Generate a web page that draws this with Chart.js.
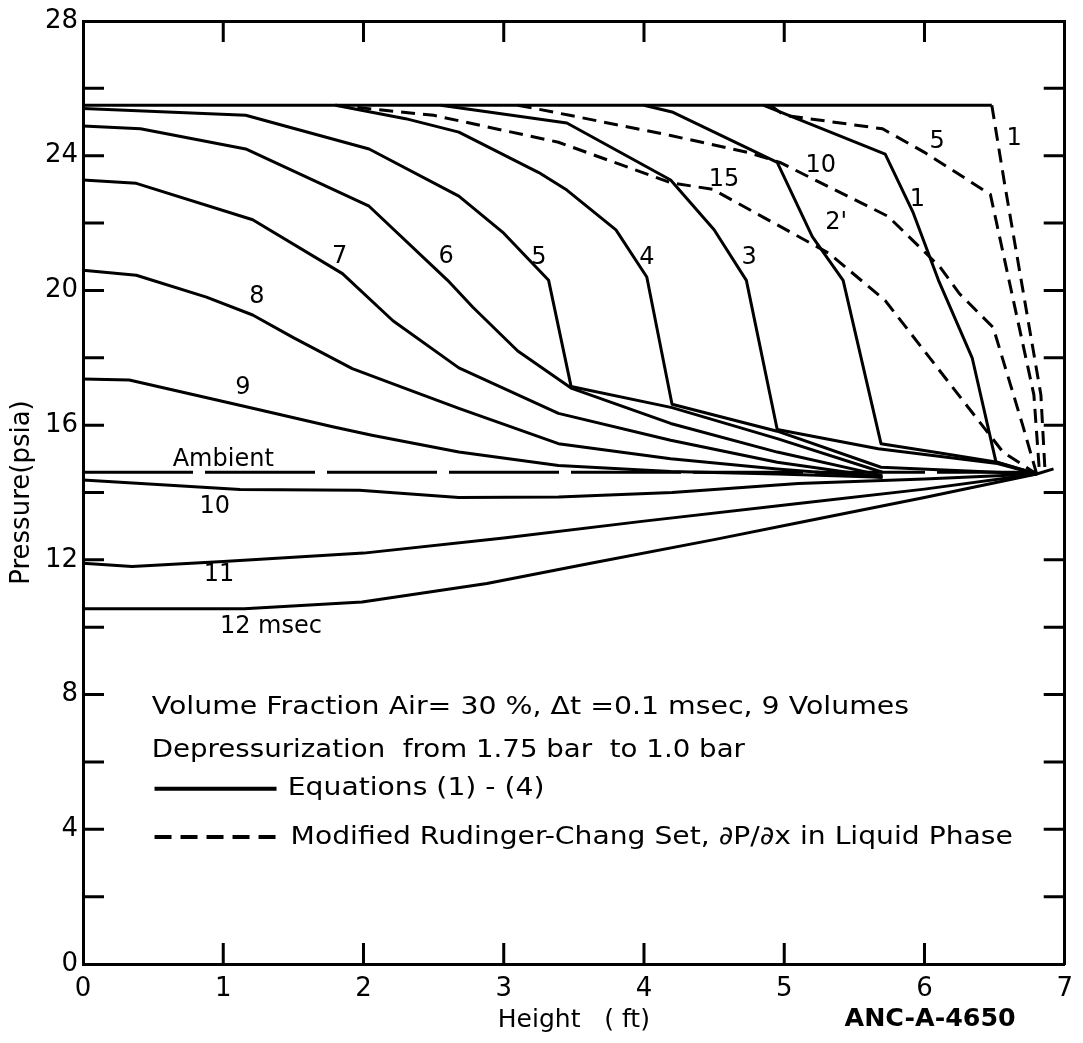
<!DOCTYPE html>
<html>
<head>
<meta charset="utf-8">
<script src="https://cdn.jsdelivr.net/npm/chart.js@4.4.1/dist/chart.umd.min.js"></script>
<style>
  html, body { margin: 0; padding: 0; background: #fff; }
  canvas { display: block; }
</style>
</head>
<body>
<canvas id="chart" width="1083" height="1043"></canvas>
<script>
// [height ft, pressure psia]
const initial = [[0, 25.5], [6.48, 25.5]];
const eq1 = [[4.85, 25.5], [5.72, 24.05], [5.92, 22.3], [6.1, 20.3], [6.34, 18.0], [6.51, 14.9], [6.8, 14.55]];
const eq2 = [[4.0, 25.5], [4.2, 25.3], [4.95, 23.8], [5.2, 21.6], [5.42, 20.3], [5.69, 15.45], [6.1, 15.18], [6.52, 14.9], [6.8, 14.55]];
const eq3 = [[2.55, 25.5], [3.45, 24.97], [4.19, 23.28], [4.5, 21.8], [4.73, 20.3], [4.95, 15.87], [5.67, 15.3], [6.52, 14.86], [6.8, 14.55]];
const eq4 = [[1.8, 25.5], [2.3, 25.1], [2.68, 24.7], [3.25, 23.5], [3.45, 22.98], [3.8, 21.8], [4.02, 20.4], [4.2, 16.62], [4.95, 15.82], [5.69, 14.75], [6.8, 14.55]];
const eq5 = [[0, 25.4], [1.16, 25.2], [2.04, 24.2], [2.68, 22.8], [3.0, 21.7], [3.32, 20.3], [3.48, 17.15], [4.2, 16.52], [4.95, 15.6], [5.7, 14.6]];
const eq6 = [[0, 24.88], [0.41, 24.8], [1.16, 24.2], [2.04, 22.5], [2.6, 20.3], [2.78, 19.5], [3.1, 18.2], [3.48, 17.1], [4.19, 16.05], [4.95, 15.2], [5.7, 14.5]];
const eq7 = [[0, 23.28], [0.38, 23.18], [1.21, 22.1], [1.85, 20.5], [2.21, 19.1], [2.68, 17.7], [3.39, 16.35], [4.19, 15.55], [4.95, 14.9], [5.7, 14.45]];
const eq8 = [[0, 20.6], [0.38, 20.45], [0.88, 19.8], [1.21, 19.27], [1.5, 18.6], [1.92, 17.68], [2.33, 17.04], [2.68, 16.5], [3.39, 15.45], [4.19, 15.0], [4.95, 14.7], [5.7, 14.45]];
const eq9 = [[0, 17.37], [0.33, 17.34], [0.79, 16.9], [1.21, 16.5], [1.78, 15.95], [2.06, 15.7], [2.68, 15.2], [3.39, 14.8], [4.19, 14.62], [4.95, 14.55], [5.7, 14.45]];
const eq10 = [[0, 14.37], [1.12, 14.09], [1.97, 14.07], [2.68, 13.85], [3.39, 13.87], [4.2, 14.0], [5.1, 14.27], [6.0, 14.4], [6.8, 14.55]];
const eq11 = [[0, 11.9], [0.35, 11.8], [1.0, 11.95], [2.0, 12.2], [3.0, 12.65], [4.0, 13.15], [5.1, 13.67], [6.0, 14.1], [6.8, 14.55]];
const eq12 = [[0, 10.55], [1.15, 10.55], [1.99, 10.75], [2.88, 11.3], [3.62, 11.9], [4.5, 12.6], [5.1, 13.1], [6.0, 13.85], [6.8, 14.55], [6.92, 14.7]];

const rc1 = [[6.48, 25.5], [6.57, 23.2], [6.83, 16.9], [6.86, 14.6]];
const rc5 = [[4.9, 25.5], [5.0, 25.2], [5.7, 24.8], [6.0, 24.1], [6.47, 22.85], [6.78, 16.9], [6.82, 14.6]];
const rc10 = [[3.1, 25.5], [3.47, 25.2], [4.19, 24.6], [4.74, 24.1], [4.97, 23.8], [5.74, 22.2], [6.11, 20.7], [6.25, 19.9], [6.49, 18.9], [6.7, 16.0], [6.8, 14.55]];
const rc15 = [[1.8, 25.5], [2.5, 25.2], [3.39, 24.4], [4.19, 23.2], [4.49, 23.0], [5.32, 21.1], [5.72, 19.7], [6.16, 17.34], [6.56, 15.2], [6.8, 14.55]];

const ambient = [[0, 14.6], [6.8, 14.6]];

const xTickMarks = [1, 2, 3, 4, 5, 6];
const yTickMarks = [2, 4, 6, 8, 10, 12, 14, 16, 18, 20, 22, 24, 26];

// label text with its anchor in data units
const curveLabels = [
  ['1', 5.95, 22.7], ["2'", 5.37, 22.0], ['3', 4.75, 20.96], ['4', 4.02, 20.96],
  ['5', 3.25, 20.96], ['6', 2.59, 21.0], ['7', 1.83, 21.0], ['8', 1.24, 19.8],
  ['9', 1.14, 17.1], ['10', 0.94, 13.57], ['11', 0.97, 11.55], ['12 msec', 1.34, 10.0],
  ['Ambient', 1.0, 14.96],
  ['15', 4.57, 23.3], ['10', 5.26, 23.7], ['5', 6.09, 24.4], ['1', 6.64, 24.5],
];

const FONT = '"DejaVu Sans", sans-serif';
const TICK = 21;

const toPoints = (pairs) => pairs.map(([x, y]) => ({ x, y }));

const solidLines = [initial, eq1, eq2, eq3, eq4, eq5, eq6, eq7, eq8, eq9, eq10, eq11, eq12];
const dashedLines = [rc1, rc5, rc10, rc15];

const datasets = [
  ...solidLines.map((s) => ({ data: toPoints(s), borderColor: '#000', borderWidth: 3, pointRadius: 0, tension: 0, borderJoinStyle: 'round' })),
  ...dashedLines.map((s) => ({ data: toPoints(s), borderColor: '#000', borderWidth: 3, pointRadius: 0, tension: 0, borderDash: [14, 8] })),
  { data: toPoints(ambient), borderColor: '#000', borderWidth: 3, pointRadius: 0, borderDash: [110, 12] },
];

function drawFitted(ctx, text, x, y, width) {
  const natural = ctx.measureText(text).width;
  ctx.save();
  ctx.translate(x, y);
  ctx.scale(width / natural, 1);
  ctx.fillText(text, 0, 0);
  ctx.restore();
}

const inwardTicks = {
  id: 'inwardTicks',
  afterDraw(chart) {
    const { ctx, chartArea: a, scales: { x, y } } = chart;
    ctx.save();
    ctx.strokeStyle = '#000';
    ctx.lineWidth = 3;
    ctx.beginPath();
    xTickMarks.forEach((v) => {
      const px = x.getPixelForValue(v);
      ctx.moveTo(px, a.bottom); ctx.lineTo(px, a.bottom - TICK);
      ctx.moveTo(px, a.top); ctx.lineTo(px, a.top + TICK);
    });
    yTickMarks.forEach((v) => {
      const py = y.getPixelForValue(v);
      ctx.moveTo(a.left, py); ctx.lineTo(a.left + TICK, py);
      ctx.moveTo(a.right, py); ctx.lineTo(a.right - TICK, py);
    });
    ctx.stroke();
    ctx.restore();
  },
};

const annotations = {
  id: 'annotations',
  afterDraw(chart) {
    const { ctx, chartArea: a, scales: { x, y } } = chart;
    ctx.save();
    ctx.fillStyle = '#000';
    ctx.textBaseline = 'middle';

    ctx.textAlign = 'center';
    ctx.font = `24px ${FONT}`;
    curveLabels.forEach(([t, lx, ly]) => ctx.fillText(t, x.getPixelForValue(lx), y.getPixelForValue(ly)));

    ctx.textAlign = 'left';
    ctx.font = `25px ${FONT}`;
    const span = (x0, x1) => x.getPixelForValue(x1) - x.getPixelForValue(x0);
    drawFitted(ctx, 'Volume Fraction Air= 30 %, \u0394t =0.1 msec, 9 Volumes', x.getPixelForValue(0.49), y.getPixelForValue(7.63), span(0.49, 5.89));
    drawFitted(ctx, 'Depressurization  from 1.75 bar  to 1.0 bar', x.getPixelForValue(0.49), y.getPixelForValue(6.35), span(0.49, 4.72));
    drawFitted(ctx, 'Equations (1) - (4)', x.getPixelForValue(1.46), y.getPixelForValue(5.2), span(1.46, 3.29));
    drawFitted(ctx, 'Modified Rudinger-Chang Set, \u2202P/\u2202x in Liquid Phase', x.getPixelForValue(1.48), y.getPixelForValue(3.77), span(1.48, 6.63));

    // legend samples
    ctx.strokeStyle = '#000';
    ctx.lineWidth = 4;
    ctx.beginPath();
    ctx.moveTo(x.getPixelForValue(0.51), y.getPixelForValue(5.2));
    ctx.lineTo(x.getPixelForValue(1.38), y.getPixelForValue(5.2));
    ctx.stroke();
    ctx.setLineDash([17, 9]);
    ctx.beginPath();
    ctx.moveTo(x.getPixelForValue(0.51), y.getPixelForValue(3.77));
    ctx.lineTo(x.getPixelForValue(1.38), y.getPixelForValue(3.77));
    ctx.stroke();
    ctx.setLineDash([]);

    ctx.font = `bold 24px ${FONT}`;
    drawFitted(ctx, 'ANC-A-4650', x.getPixelForValue(5.43), a.bottom + 56, span(5.43, 6.65));
    ctx.restore();
  },
};

const axisBorder = { display: true, color: '#000', width: 3 };
const noGrid = { display: false, drawTicks: false };

new Chart(document.getElementById('chart'), {
  type: 'line',
  data: { datasets },
  options: {
    responsive: false,
    animation: false,
    layout: { padding: 0 },
    plugins: { legend: { display: false }, tooltip: { enabled: false } },
    scales: {
      x: {
        type: 'linear', position: 'bottom', min: 0, max: 7,
        grid: noGrid, border: axisBorder,
        ticks: { stepSize: 1, color: '#000', padding: 10, font: { family: FONT, size: 26 } },
        title: { display: true, text: 'Height   ( ft)', color: '#000', font: { family: FONT, size: 25 }, padding: { top: 0, bottom: 8 } },
        afterFit: (s) => { s.height = 79; },
      },
      x2: {
        type: 'linear', position: 'top', min: 0, max: 7,
        grid: noGrid, border: axisBorder, ticks: { display: false },
        afterFit: (s) => { s.height = 21; },
      },
      y: {
        type: 'linear', position: 'left', min: 0, max: 28,
        grid: noGrid, border: axisBorder,
        ticks: { stepSize: 2, color: '#000', padding: 5, font: { family: FONT, size: 26 }, callback: (v) => (v % 4 === 0 ? v : '') },
        title: { display: true, text: 'Pressure(psia)', color: '#000', font: { family: FONT, size: 26 }, padding: { top: 7, bottom: 0 } },
        afterFit: (s) => { s.width = 83; },
      },
      y2: {
        type: 'linear', position: 'right', min: 0, max: 28,
        grid: noGrid, border: axisBorder, ticks: { display: false },
        afterFit: (s) => { s.width = 16; },
      },
    },
  },
  plugins: [inwardTicks, annotations],
});
</script>
</body>
</html>
